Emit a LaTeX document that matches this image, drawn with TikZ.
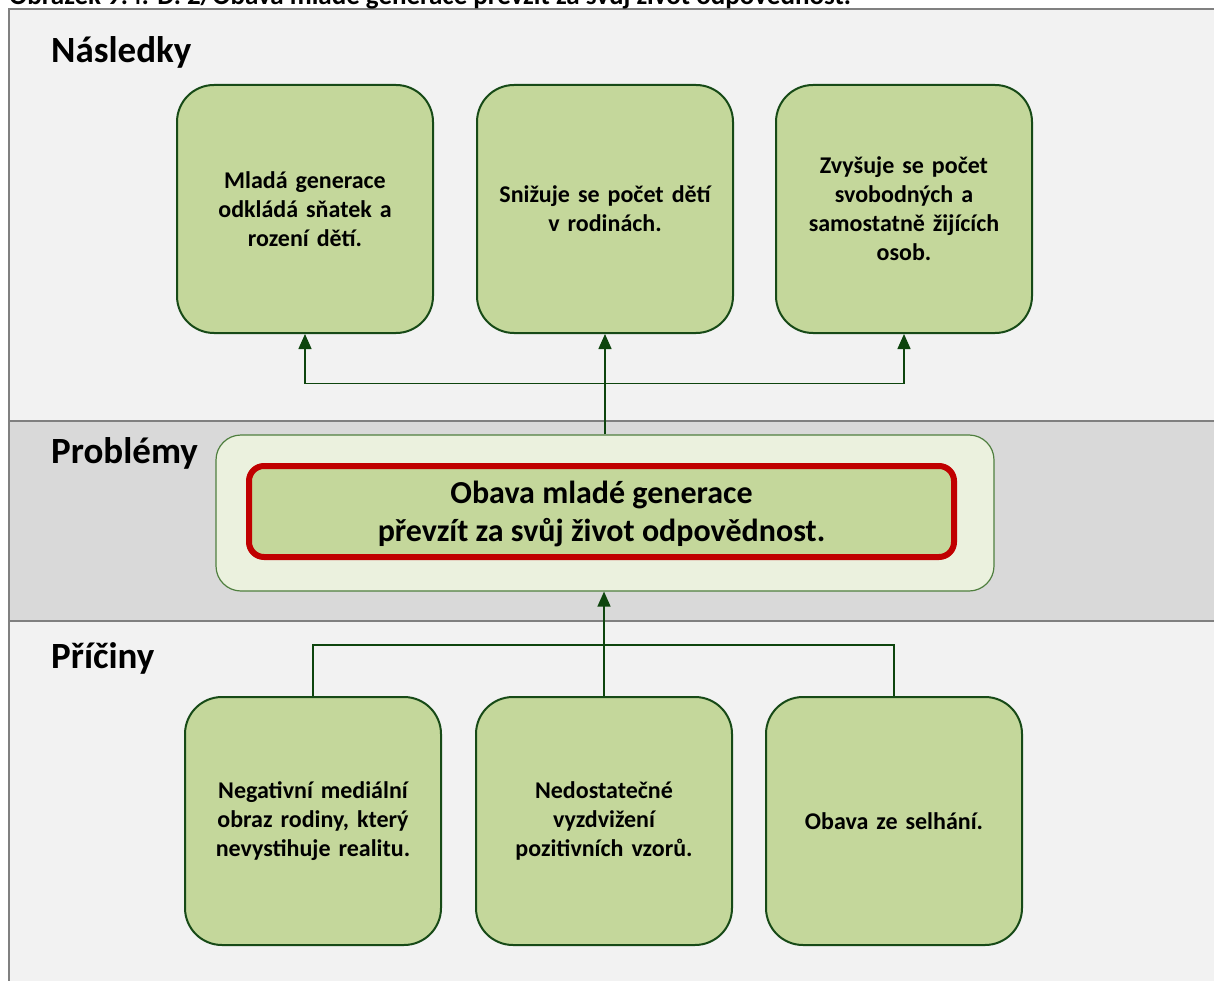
\documentclass[tikz,border=0pt]{standalone}
\usepackage{fontspec}
\setmainfont{Carlito}
\usetikzlibrary{arrows.meta}
\definecolor{bandlight}{HTML}{F2F2F2}
\definecolor{bandmid}{HTML}{D9D9D9}
\definecolor{framegray}{HTML}{808080}
\definecolor{boxfill}{HTML}{C4D79B}
\definecolor{boxline}{HTML}{174A17}
\definecolor{panelfill}{HTML}{EBF1DE}
\definecolor{panelline}{HTML}{4F7F3F}
\definecolor{alertred}{HTML}{C00000}
\definecolor{arrowgreen}{HTML}{0E450E}
\tikzset{
  x=1pt, y=-1pt,
  cardbox/.style={draw=boxline, line width=2pt, fill=boxfill, rounded corners=37pt,
    minimum width=256pt, minimum height=248pt, align=center, text width=230pt,
    font=\bfseries\fontsize{24}{29}\selectfont, inner sep=0pt},
  bandlabel/.style={anchor=base west, inner sep=0pt, font=\bfseries\fontsize{37}{42}\selectfont},
  conn/.style={draw=arrowgreen, line width=1.4pt},
  arr/.style={conn, -{Triangle[length=15pt, width=13pt]}},
}
\begin{document}
\begin{tikzpicture}
\clip (0,0) rectangle (1214,981);
\fill[white] (0,0) rectangle (1214,981);

% bands
\fill[bandlight] (9,9) rectangle (1220,421);
\fill[bandmid] (9,421) rectangle (1220,621);
\fill[bandlight] (9,621) rectangle (1220,990);
\draw[framegray, line width=2pt] (9,990) -- (9,9) -- (1220,9);
\draw[framegray, line width=2pt] (9,421) -- (1220,421);
\draw[framegray, line width=2pt] (9,621) -- (1220,621);

% caption above the frame
\node[anchor=base west, inner sep=0pt, font=\bfseries\fontsize{27}{32}\selectfont] (caption) at (9,5)
  {Obrázek 9.4: D. 2/Obava mladé generace převzít za svůj život odpovědnost.};

% band labels
\node[bandlabel] (lblA) at (51,63) {Následky};
\node[bandlabel] (lblB) at (51,463) {Problémy};
\node[bandlabel] (lblC) at (51,668) {Příčiny};

% consequences
\node[cardbox] (top1) at (305,209) {Mladá generace\\odkládá sňatek a\\rození dětí.};
\node[cardbox] (top2) at (605,209) {Snižuje se počet dětí\\v rodinách.};
\node[cardbox] (top3) at (904,209) {Zvyšuje se počet\\svobodných a\\samostatně žijících\\osob.};

% central problem
\node[draw=panelline, line width=1.2pt, fill=panelfill, rounded corners=25pt,
      minimum width=778pt, minimum height=156pt] (mid) at (605,513) {};
\node[draw=alertred, line width=6pt, fill=boxfill, rounded corners=15pt,
      minimum width=705pt, minimum height=91pt, inner sep=0pt] (core) at (601.5,511.5) {};
\node[align=center, inner sep=0pt, font=\bfseries\fontsize{32}{38}\selectfont]
  (coretext) at (601.5,514) {Obava mladé generace\\převzít za svůj život odpovědnost.};

% causes
\node[cardbox] (bot1) at (313,821) {Negativní mediální\\obraz rodiny, který\\nevystihuje realitu.};
\node[cardbox] (bot2) at (604,821) {Nedostatečné\\vyzdvižení\\pozitivních vzorů.};
\node[cardbox] (bot3) at (894,821) {Obava ze selhání.};

% connectors: problem -> consequences
\draw[arr] (mid.north) -- (top2.south);
\draw[arr] (mid.north) ++(0,-51) -| (top1.south);
\draw[arr] (mid.north) ++(0,-51) -| (top3.south);

% connectors: causes -> problem
\draw[arr] (bot2.north) -- (bot2.north |- mid.south);
\draw[conn] (bot1.north) -- ++(0,-51) -| (bot3.north);
\end{tikzpicture}
\end{document}
